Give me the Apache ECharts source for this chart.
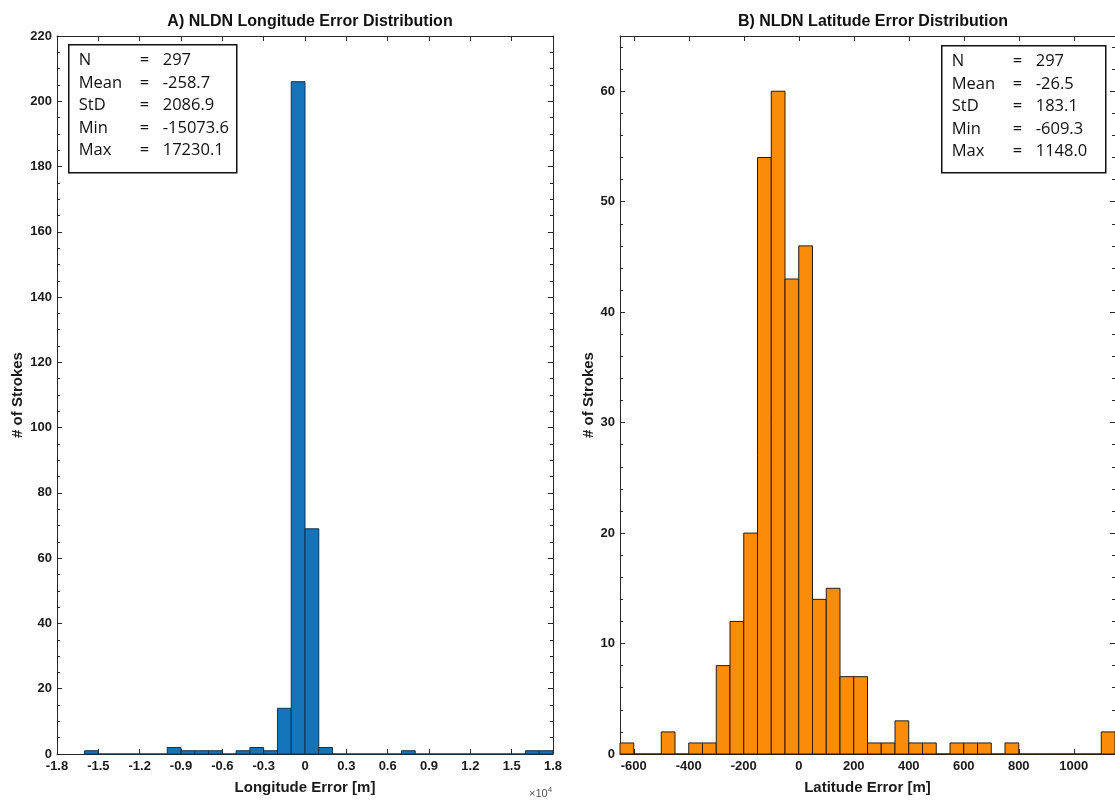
<!DOCTYPE html>
<html>
<head>
<meta charset="utf-8">
<script src="https://cdn.jsdelivr.net/npm/echarts@6/dist/echarts.min.js"></script>
<style>
  html, body { margin: 0; padding: 0; background: #fff; }
  #chart { width: 1115px; height: 802px; }
</style>
</head>
<body>
<div id="chart"></div>
<script>
// bin edges + counts
const lonEdges = [-16000, -15000, -14000, -13000, -12000, -11000, -10000, -9000, -8000, -7000,
  -6000, -5000, -4000, -3000, -2000, -1000, 0, 1000, 2000, 3000, 4000, 5000, 6000, 7000,
  8000, 9000, 10000, 11000, 12000, 13000, 14000, 15000, 16000, 17000, 18000];
const lonCounts = [1, 0, 0, 0, 0, 0, 2, 1, 1, 1,
  0, 1, 2, 1, 14, 206, 69, 2, 0, 0, 0, 0, 0, 1,
  0, 0, 0, 0, 0, 0, 0, 0, 1, 1];

const latEdges = [-650, -600, -550, -500, -450, -400, -350, -300, -250, -200, -150, -100, -50,
  0, 50, 100, 150, 200, 250, 300, 350, 400, 450, 500, 550, 600, 650, 700, 750, 800, 850,
  900, 950, 1000, 1050, 1100, 1150];
const latCounts = [1, 0, 0, 2, 0, 1, 1, 8, 12, 20, 54, 60, 43,
  46, 14, 15, 7, 7, 1, 1, 3, 1, 1, 0, 1, 1, 1, 0, 1, 0,
  0, 0, 0, 0, 0, 2];

const statLabels = ['N', 'Mean', 'StD', 'Min', 'Max'];
const lonStats = ['297', '-258.7', '2086.9', '-15073.6', '17230.1'];
const latStats = ['297', '-26.5', '183.1', '-609.3', '1148.0'];

const toBins = (edges, counts) => counts.map((c, i) => [edges[i], edges[i + 1], c]);

const AXIS_COLOR = '#262626';
const FONT = 'Liberation Sans, Arial, sans-serif';

function histSeries(idx, data, fill, edge) {
  return {
    type: 'custom',
    xAxisIndex: idx * 2,
    yAxisIndex: idx * 2,
    data: data,
    silent: true,
    renderItem: (params, api) => {
      const topLeft = api.coord([api.value(0), api.value(2)]);
      const botRight = api.coord([api.value(1), 0]);
      return {
        type: 'rect',
        shape: {
          x: topLeft[0],
          y: topLeft[1],
          width: botRight[0] - topLeft[0],
          height: botRight[1] - topLeft[1]
        },
        style: { fill: fill, stroke: edge, lineWidth: 1 }
      };
    }
  };
}

const tickLabel = { fontWeight: 'bold', fontSize: 13, color: '#1a1a1a', fontFamily: FONT };
const nameStyle = { fontWeight: 'bold', fontSize: 15, color: '#1a1a1a', fontFamily: FONT };
const axisLine = { show: true, onZero: false, lineStyle: { color: AXIS_COLOR, width: 1 } };
const axisTick = { show: true, inside: true, length: 5, lineStyle: { color: AXIS_COLOR } };

function xAxisPair(grid, cfg, formatter) {
  const base = {
    gridIndex: grid,
    type: 'value',
    axisLine: axisLine,
    axisTick: axisTick,
    splitLine: { show: false },
    min: cfg.min,
    max: cfg.max,
    interval: cfg.interval,
    splitNumber: cfg.splitNumber
  };
  return [
    {
      ...base,
      position: 'bottom',
      axisLabel: { ...tickLabel, margin: 6, formatter: formatter, showMinLabel: cfg.showEnds, showMaxLabel: cfg.showEnds },
      name: cfg.title,
      nameLocation: 'middle',
      nameGap: 26,
      nameTextStyle: nameStyle
    },
    { ...base, position: 'top', axisLabel: { show: false } }
  ];
}

function yAxisPair(grid, cfg) {
  const base = {
    gridIndex: grid,
    type: 'value',
    min: 0,
    max: cfg.max,
    interval: cfg.interval,
    axisLine: axisLine,
    axisTick: axisTick,
    minorTick: { show: true, splitNumber: cfg.minor, length: 3, lineStyle: { color: AXIS_COLOR } },
    splitLine: { show: false }
  };
  return [
    {
      ...base,
      position: 'left',
      axisLabel: { ...tickLabel, margin: 5, showMaxLabel: cfg.showMax },
      name: '# of Strokes',
      nameLocation: 'middle',
      nameRotate: 90,
      nameGap: cfg.nameGap,
      nameTextStyle: nameStyle
    },
    { ...base, position: 'right', axisLabel: { show: false } }
  ];
}

function statBox(left, top, w, h, values) {
  const children = [{
    type: 'rect',
    shape: { x: 0, y: 0, width: w, height: h },
    style: { fill: '#fff', stroke: '#111', lineWidth: 1.5 }
  }];
  const textStyle = { fontSize: 16.5, fontFamily: 'Open Sans, sans-serif', fill: '#111', verticalAlign: 'middle' };
  statLabels.forEach((lab, i) => {
    const y = 16 + i * 22.5;
    children.push({ type: 'text', x: 10, y: y, style: { ...textStyle, text: lab } });
    children.push({ type: 'text', x: 71, y: y, style: { ...textStyle, text: '=' } });
    children.push({ type: 'text', x: 94, y: y, style: { ...textStyle, text: values[i] } });
  });
  return { type: 'group', left: left, top: top, children: children };
}

const chart = echarts.init(document.getElementById('chart'));

const titleStyle = { fontSize: 16, fontWeight: 'bold', color: '#111', fontFamily: FONT };

const option = {
  backgroundColor: '#ffffff',
  animation: false,
  title: [
    { text: 'A) NLDN Longitude Error Distribution', left: 305, top: 9, textAlign: 'center', textStyle: titleStyle },
    { text: 'B) NLDN Latitude Error Distribution', left: 868, top: 9, textAlign: 'center', textStyle: titleStyle }
  ],
  grid: [
    { left: 57, right: 562, top: 36, bottom: 48 },
    { left: 620, right: -4, top: 36, bottom: 48 }
  ],
  xAxis: [
    ...xAxisPair(0, { min: -18000, max: 18000, interval: 3000, showEnds: true, title: 'Longitude Error [m]' },
      v => (v === 0 ? '0' : (v / 10000).toFixed(1))),
    ...xAxisPair(1, { min: -650, max: 1150, splitNumber: 9, showEnds: false, title: 'Latitude Error [m]' },
      v => String(v))
  ],
  yAxis: [
    ...yAxisPair(0, { max: 220, interval: 20, minor: 4, showMax: true, nameGap: 32 }),
    ...yAxisPair(1, { max: 65, interval: 10, minor: 5, showMax: false, nameGap: 22 })
  ],
  series: [
    histSeries(0, toBins(lonEdges, lonCounts), '#1474ba', '#15324d'),
    histSeries(1, toBins(latEdges, latCounts), '#fb8c0a', '#2a1a0a')
  ],
  graphic: [
    statBox(68, 44, 168, 128, lonStats),
    statBox(941, 45, 164, 127, latStats),
    {
      type: 'text',
      left: 529,
      top: 786,
      style: {
        text: '{a|×10}{b|4}',
        rich: {
          a: { fontSize: 11, fill: '#555', fontFamily: FONT },
          b: { fontSize: 8, fill: '#555', fontFamily: FONT, verticalAlign: 'top', padding: [0, 0, 7, 0] }
        }
      }
    }
  ]
};

chart.setOption(option);
</script>
</body>
</html>
